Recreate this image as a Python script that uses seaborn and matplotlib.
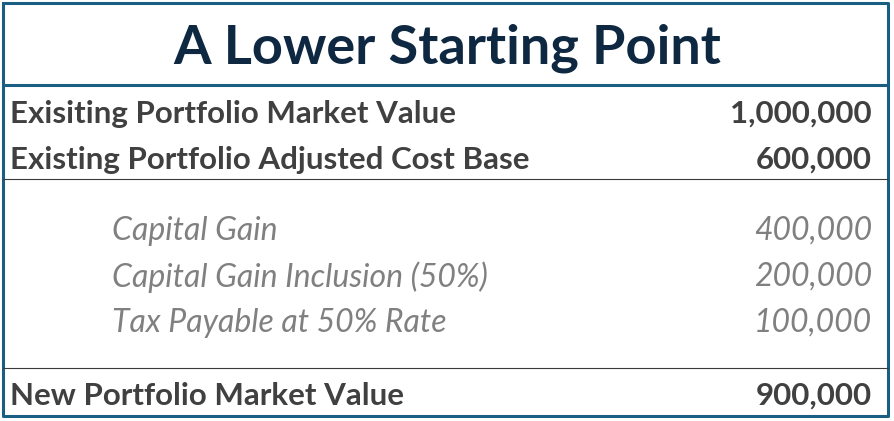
import matplotlib
matplotlib.use("Agg")
import matplotlib.pyplot as plt
import seaborn as sns

# Dados da tabela
titulo = "A Lower Starting Point"
rotulos = ["Exisiting Portfolio Market Value", "Existing Portfolio Adjusted Cost Base",
           "Capital Gain", "Capital Gain Inclusion (50%)", "Tax Payable at 50% Rate",
           "New Portfolio Market Value"]
valores = [1000000, 600000, 400000, 200000, 100000, 900000]
destaque = [True, True, False, False, False, True]

sns.set_style("white")
plt.rcParams['font.family'] = ['Lato', 'DejaVu Sans']

fig = plt.figure(figsize=(8.94, 4.21), dpi=100)
ax = fig.add_axes([0, 0, 1, 1])
ax.set_xlim(0, 894)
ax.set_ylim(421, 0)
ax.axis("off")

azul = "#1b5e84"
# borda externa e linhas
ax.plot([3, 888, 888, 3, 3], [3, 3, 416, 416, 3], color=azul, lw=2.2)
ax.plot([3, 888], [85, 85], color=azul, lw=2.2)
ax.plot([3, 888], [179, 179], color="#3a3a3a", lw=0.8)
ax.plot([3, 888], [368, 368], color="#3a3a3a", lw=0.8)

ax.text(447, 48, titulo, ha="center", va="center", fontsize=39, fontweight="bold", color="#0e2841")

linhas_y = [114, 160, 231, 277, 323, 396]
for rot, val, dest, y in zip(rotulos, valores, destaque, linhas_y):
    if dest:
        ax.text(10, y, rot, ha="left", va="center", fontsize=22.5, fontweight="bold", color="#404040")
        ax.text(872, y, f"{val:,}", ha="right", va="center", fontsize=22.5, fontweight="bold", color="#404040")
    else:
        ax.text(112, y, rot, ha="left", va="center", fontsize=23, style="italic", color="#808080")
        ax.text(872, y, f"{val:,}", ha="right", va="center", fontsize=23, style="italic", color="#808080")

fig.savefig("out.png", dpi=100)
